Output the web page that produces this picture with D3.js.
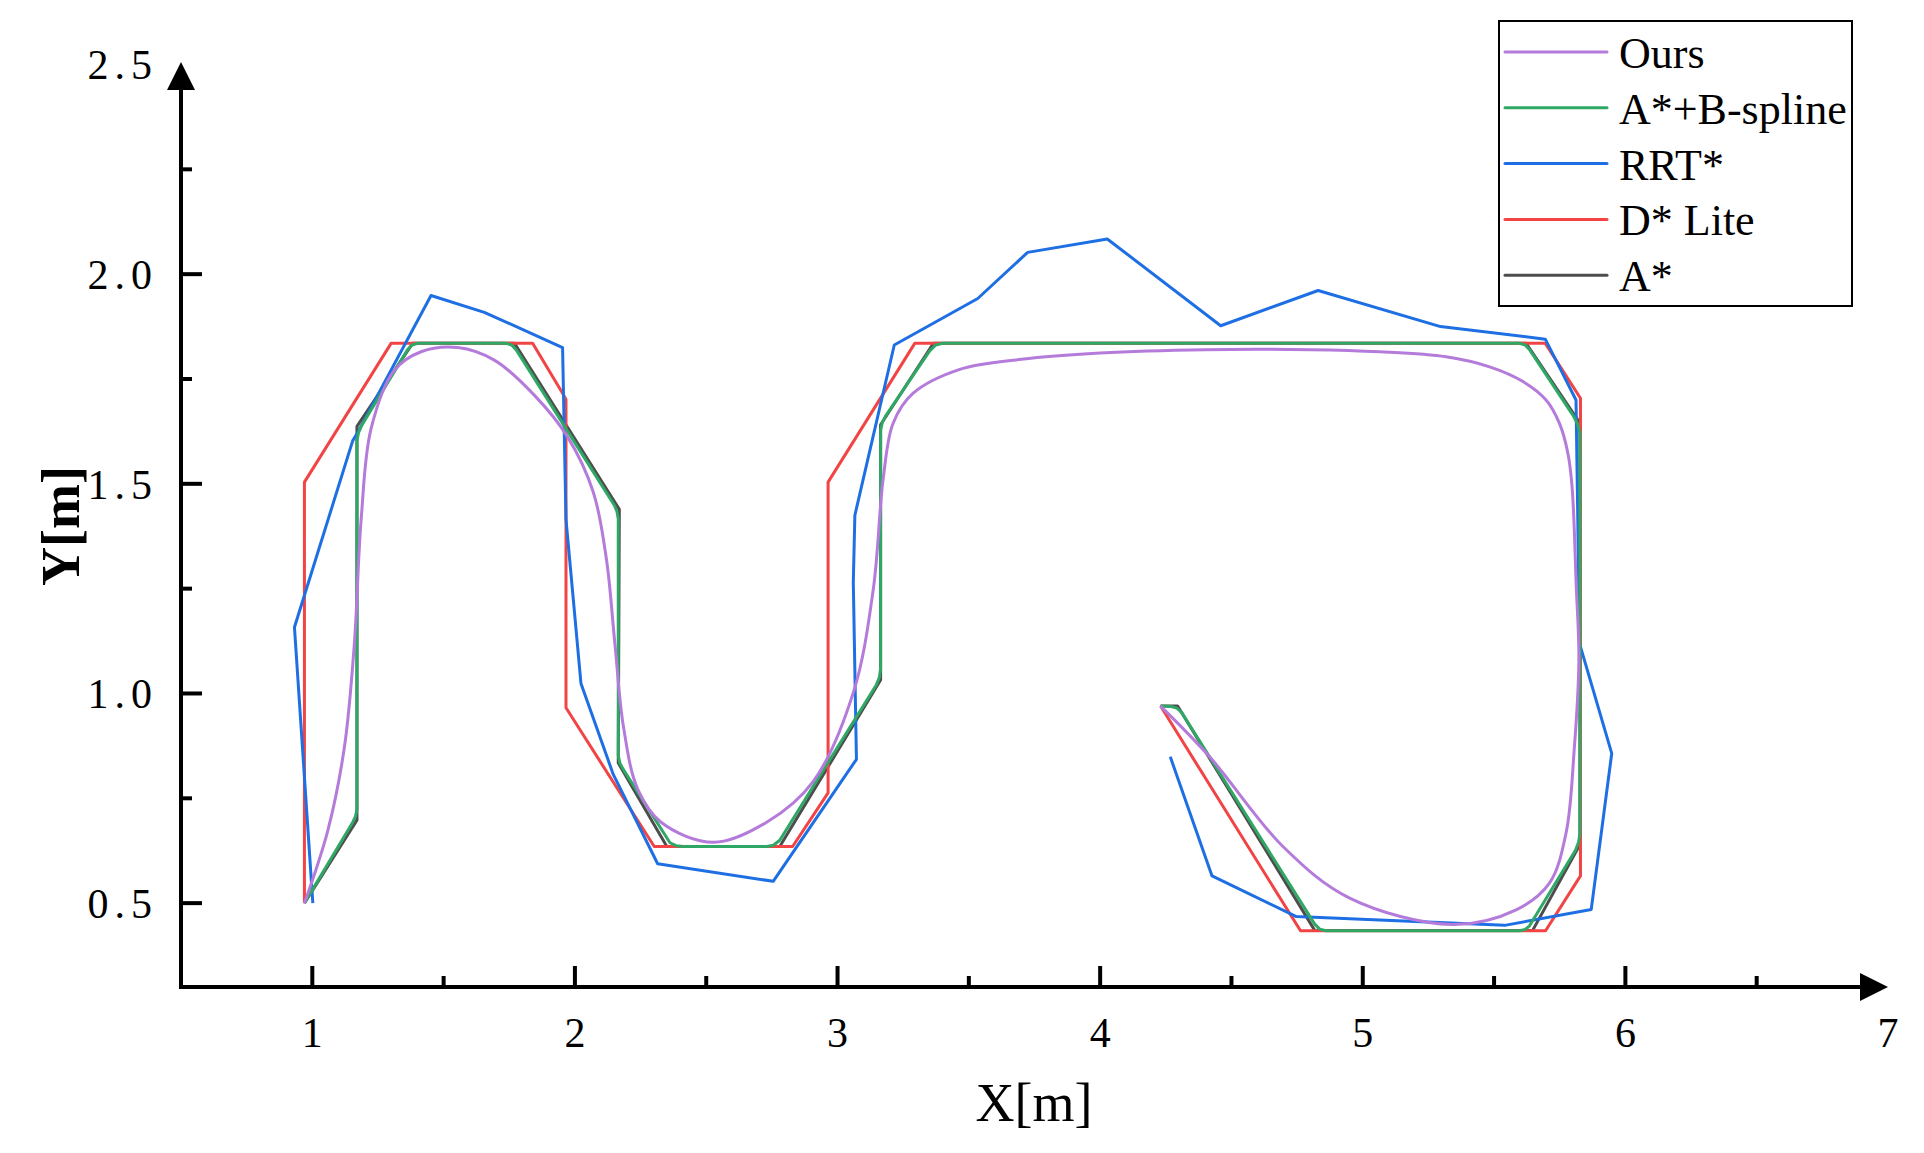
<!DOCTYPE html>
<html>
<head>
<meta charset="utf-8">
<script src="https://cdn.jsdelivr.net/npm/d3@7"></script>
<style>
  html, body { margin: 0; padding: 0; background: #fff; }
  svg text { font-family: "Liberation Serif", "Times New Roman", serif; fill: #000; }
</style>
</head>
<body>
<div id="chart"></div>
<script>
// path points [x, y] in metres
const ours = [
  [0.97, 0.5], [1.059, 0.673], [1.122, 0.871], [1.16, 1.118], [1.186, 1.415], [1.224, 1.632],
  [1.313, 1.771], [1.414, 1.815], [1.554, 1.825], [1.693, 1.795], [1.846, 1.711], [1.972, 1.612],
  [2.07, 1.48], [2.12, 1.32], [2.152, 1.12], [2.185, 0.92], [2.239, 0.772], [2.328, 0.693],
  [2.527, 0.645], [2.73, 0.693], [2.907, 0.79], [3.06, 1.002], [3.136, 1.248], [3.174, 1.513],
  [3.212, 1.645], [3.288, 1.716], [3.466, 1.773], [3.7, 1.797], [4.0, 1.812], [4.4, 1.82],
  [4.8, 1.82], [5.064, 1.815], [5.317, 1.803], [5.483, 1.779], [5.61, 1.744], [5.698, 1.7],
  [5.749, 1.644], [5.781, 1.573], [5.797, 1.493], [5.813, 1.255], [5.823, 1.08], [5.805, 0.865],
  [5.774, 0.667], [5.71, 0.547], [5.584, 0.484], [5.34, 0.449], [4.95, 0.512], [4.696, 0.635],
  [4.417, 0.849], [4.23, 0.97]
];

// B-spline smoothed A*, corners read as short chamfers
const aStarBspline = [
  [0.97, 0.5], [1.154, 0.693], [1.164, 0.706], [1.17, 0.724], [1.17, 1.603], [1.176, 1.622],
  [1.188, 1.639], [1.363, 1.82], [1.38, 1.831], [1.401, 1.835], [1.738, 1.835], [1.759, 1.831],
  [1.776, 1.82], [2.15, 1.449], [2.16, 1.434], [2.165, 1.416], [2.165, 0.852], [2.171, 0.834],
  [2.184, 0.819], [2.362, 0.644], [2.385, 0.637], [2.413, 0.635], [2.73, 0.635], [2.756, 0.638],
  [2.78, 0.65], [3.148, 1.021], [3.159, 1.038], [3.164, 1.059], [3.164, 1.628], [3.17, 1.645],
  [3.182, 1.661], [3.351, 1.817], [3.374, 1.831], [3.402, 1.835], [5.597, 1.835], [5.618, 1.831],
  [5.635, 1.82], [5.8, 1.664], [5.818, 1.643], [5.827, 1.62], [5.827, 0.667], [5.822, 0.646],
  [5.81, 0.626], [5.635, 0.446], [5.618, 0.437], [5.597, 0.434], [4.86, 0.434], [4.836, 0.438],
  [4.817, 0.45], [4.31, 0.955], [4.292, 0.965], [4.27, 0.969], [4.23, 0.97]
];

const rrtStar = [
  [1.002, 0.5], [0.932, 1.158], [1.154, 1.603], [1.175, 1.625], [1.452, 1.949], [1.655, 1.909],
  [1.953, 1.825], [1.966, 1.415], [2.023, 1.024], [2.146, 0.807], [2.315, 0.594], [2.755, 0.552],
  [3.072, 0.843], [3.06, 1.266], [3.066, 1.425], [3.216, 1.831], [3.534, 1.942], [3.724, 2.052],
  [4.027, 2.084], [4.459, 1.877], [4.83, 1.961], [5.296, 1.875], [5.695, 1.845], [5.812, 1.7],
  [5.818, 1.45], [5.825, 1.12], [5.948, 0.857], [5.87, 0.485], [5.54, 0.447], [4.747, 0.468],
  [4.426, 0.565], [4.267, 0.849]
];

const dStarLite = [
  [0.97, 0.5], [0.97, 1.504], [1.3, 1.835], [1.839, 1.835], [1.953, 1.716], [1.966, 1.701],
  [1.966, 0.966], [2.302, 0.635], [2.829, 0.635], [2.964, 0.763], [2.964, 1.504], [3.294, 1.835],
  [5.695, 1.835], [5.829, 1.704], [5.829, 0.565], [5.696, 0.434], [4.763, 0.434], [4.23, 0.97]
];

const aStar = [
  [0.97, 0.5], [1.17, 0.698], [1.17, 1.637], [1.382, 1.835], [1.77, 1.835], [2.169, 1.439],
  [2.165, 0.834], [2.35, 0.635], [2.78, 0.635], [3.164, 1.032], [3.164, 1.641], [3.365, 1.835],
  [5.622, 1.835], [5.827, 1.645], [5.827, 0.64], [5.647, 0.435], [4.817, 0.435], [4.295, 0.97],
  [4.23, 0.97]
];

const seriesNames = ["Ours", "A*+B-spline", "RRT*", "D* Lite", "A*"];
const seriesColors = ["#B47BDB", "#2FA866", "#1E6FE3", "#F24444", "#4D4D4D"];
const seriesData = [ours, aStarBspline, rrtStar, dStarLite, aStar];

const xMajor = [1, 2, 3, 4, 5, 6];
const xMinor = [1.5, 2.5, 3.5, 4.5, 5.5, 6.5];
const yMajor = [0.5, 1.0, 1.5, 2.0];
const yMinor = [0.75, 1.25, 1.75, 2.25];
const xLabels = [1, 2, 3, 4, 5, 6, 7];
const yLabels = [0.5, 1.0, 1.5, 2.0, 2.5];

const width = 1924, height = 1153;
const svg = d3.select('#chart')
  .append('svg')
  .attr('width', width)
  .attr('height', height)

const x = d3.scaleLinear().domain([0.5, 7]).range([181, 1888])
const y = d3.scaleLinear().domain([0.3, 2.5]).range([987, 64.5])

const x0 = x(0.5), y0 = y(0.3)

// paths, bottom layer first; only "Ours" is a smooth curve
const drawOrder = [4, 3, 2, 1, 0]
drawOrder.forEach(function(i) {
  const line = d3.line()
    .x(function(d) { return x(d[0]) })
    .y(function(d) { return y(d[1]) })
    .curve(i === 0 ? d3.curveCatmullRom.alpha(0.5) : d3.curveLinear)
  svg.append('path')
    .datum(seriesData[i])
    .attr('d', line)
    .attr('fill', 'none')
    .attr('stroke', seriesColors[i])
    .attr('stroke-width', 3)
    .attr('stroke-linejoin', 'round')
})

// axes
const axisG = svg.append('g').attr('stroke', '#000').attr('stroke-width', 4)
axisG.append('line').attr('x1', x0).attr('y1', y0 + 2).attr('x2', x0).attr('y2', 88)
axisG.append('line').attr('x1', x0 - 2).attr('y1', y0).attr('x2', 1862).attr('y2', y0)

svg.append('path')
  .attr('d', `M${x0},62 L${x0 - 14},90 L${x0 + 14},90 Z`)
  .attr('fill', '#000')
svg.append('path')
  .attr('d', `M1888,${y0} L1860,${y0 - 14} L1860,${y0 + 14} Z`)
  .attr('fill', '#000')

// ticks point inward
xMajor.forEach(function(v) {
  axisG.append('line').attr('x1', x(v)).attr('x2', x(v)).attr('y1', y0).attr('y2', y0 - 21)
})
xMinor.forEach(function(v) {
  axisG.append('line').attr('x1', x(v)).attr('x2', x(v)).attr('y1', y0).attr('y2', y0 - 11)
})
yMajor.forEach(function(v) {
  axisG.append('line').attr('y1', y(v)).attr('y2', y(v)).attr('x1', x0).attr('x2', x0 + 21)
})
yMinor.forEach(function(v) {
  axisG.append('line').attr('y1', y(v)).attr('y2', y(v)).attr('x1', x0).attr('x2', x0 + 11)
})

svg.selectAll('.xlab')
  .data(xLabels)
  .enter()
  .append('text')
  .attr('class', 'xlab')
  .attr('x', function(d) { return x(d) })
  .attr('y', 1047)
  .attr('text-anchor', 'middle')
  .style('font-size', '42px')
  .text(function(d) { return d })

svg.selectAll('.ylab')
  .data(yLabels)
  .enter()
  .append('text')
  .attr('class', 'ylab')
  .attr('x', 158)
  .attr('y', function(d) { return y(d) })
  .attr('dy', '0.35em')
  .attr('text-anchor', 'end')
  .style('font-size', '42px')
  .style('letter-spacing', '6px')
  .text(function(d) { return d.toFixed(1) })

svg.append('text')
  .attr('x', 1034)
  .attr('y', 1121)
  .attr('text-anchor', 'middle')
  .style('font-size', '54px')
  .text('X[m]')

svg.append('text')
  .attr('transform', 'translate(79,526) rotate(-90)')
  .attr('text-anchor', 'middle')
  .style('font-size', '54px')
  .style('font-weight', 'bold')
  .text('Y[m]')

// legend
const legend = svg.append('g')
legend.append('rect')
  .attr('x', 1499).attr('y', 21)
  .attr('width', 353).attr('height', 285)
  .attr('fill', '#fff')
  .attr('stroke', '#000')
  .attr('stroke-width', 2)

seriesNames.forEach(function(name, i) {
  const ry = 52 + i * 55.8
  legend.append('line')
    .attr('x1', 1505).attr('x2', 1607)
    .attr('y1', ry).attr('y2', ry)
    .attr('stroke', seriesColors[i])
    .attr('stroke-width', 3)
    .attr('stroke-linecap', 'round')
  legend.append('text')
    .attr('x', 1619)
    .attr('y', ry + 16)
    .style('font-size', '44px')
    .text(name)
})
</script>
</body>
</html>
